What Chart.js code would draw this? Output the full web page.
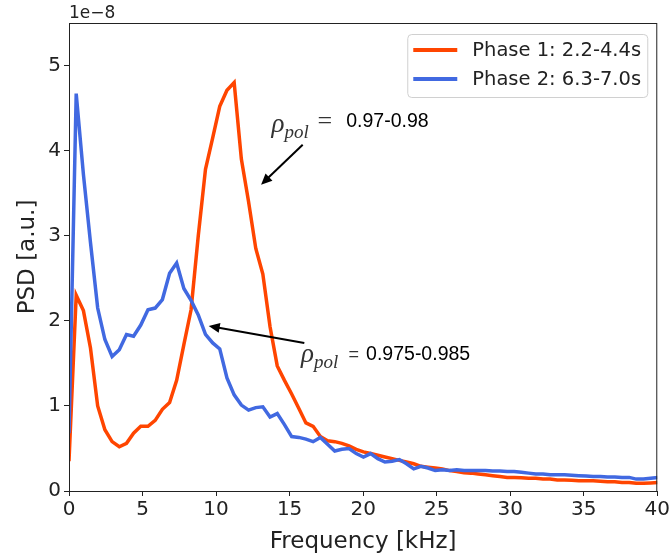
<!DOCTYPE html>
<html lang="en">
<head>
<meta charset="UTF-8">
<title>PSD</title>
<script src="https://cdn.jsdelivr.net/npm/chart.js@4.4.0/dist/chart.umd.min.js"></script>
<style>
  html, body { margin: 0; padding: 0; background: #fff; }
  #wrap { width: 672px; height: 556px; }
</style>
</head>
<body>
<div id="wrap"><canvas id="chart" width="672" height="556"></canvas></div>
<script>
// frequency in kHz
const freqs = [0, 0.49, 0.98, 1.46, 1.95, 2.44, 2.93, 3.42, 3.91, 4.39,
  4.88, 5.37, 5.86, 6.35, 6.84, 7.32, 7.81, 8.30, 8.79, 9.28,
  9.77, 10.25, 10.74, 11.23, 11.72, 12.21, 12.70, 13.18, 13.67, 14.16,
  14.65, 15.14, 15.63, 16.11, 16.60, 17.09, 17.58, 18.07, 18.55, 19.04,
  19.53, 20.02, 20.51, 21.00, 21.48, 21.97, 22.46, 22.95, 23.44, 23.93,
  24.41, 24.90, 25.39, 25.88, 26.37, 26.86, 27.34, 27.83, 28.32, 28.81,
  29.30, 29.79, 30.27, 30.76, 31.25, 31.74, 32.23, 32.71, 33.20, 33.69,
  34.18, 34.67, 35.16, 35.64, 36.13, 36.62, 37.11, 37.60, 38.09, 38.57,
  39.06, 39.55, 40.04];

// PSD in units of 1e-8
const phase1 = [0.35, 2.30, 2.12, 1.68, 1.00, 0.72, 0.58, 0.52, 0.56, 0.68,
  0.76, 0.76, 0.83, 0.96, 1.04, 1.30, 1.72, 2.13, 3.00, 3.78,
  4.15, 4.52, 4.71, 4.80, 3.90, 3.40, 2.85, 2.55, 1.93, 1.47,
  1.30, 1.14, 0.97, 0.80, 0.76, 0.64, 0.59, 0.58, 0.56, 0.53,
  0.49, 0.46, 0.44, 0.42, 0.40, 0.38, 0.36, 0.34, 0.32, 0.29,
  0.28, 0.27, 0.26, 0.24, 0.23, 0.215, 0.21, 0.20, 0.19, 0.18,
  0.17, 0.16, 0.16, 0.155, 0.15, 0.15, 0.14, 0.14, 0.13, 0.13,
  0.125, 0.12, 0.12, 0.12, 0.115, 0.11, 0.11, 0.10, 0.10, 0.09,
  0.09, 0.095, 0.10];

const phase2 = [0.68, 4.67, 3.72, 2.92, 2.15, 1.78, 1.58, 1.66, 1.84, 1.82,
  1.95, 2.13, 2.15, 2.25, 2.56, 2.68, 2.38, 2.24, 2.07, 1.84,
  1.74, 1.67, 1.33, 1.13, 1.01, 0.95, 0.98, 0.99, 0.87, 0.91,
  0.78, 0.64, 0.63, 0.61, 0.58, 0.63, 0.55, 0.47, 0.49, 0.50,
  0.44, 0.40, 0.44, 0.38, 0.34, 0.35, 0.37, 0.32, 0.26, 0.29,
  0.27, 0.24, 0.25, 0.24, 0.25, 0.24, 0.24, 0.24, 0.24, 0.235,
  0.235, 0.23, 0.23, 0.22, 0.21, 0.20, 0.20, 0.19, 0.19, 0.19,
  0.185, 0.18, 0.175, 0.17, 0.17, 0.165, 0.165, 0.16, 0.16, 0.14,
  0.14, 0.15, 0.16];

const seriesLabels = ['Phase 1: 2.2-4.4s', 'Phase 2: 6.3-7.0s'];
const xTicks = [0, 5, 10, 15, 20, 25, 30, 35, 40];
const yTicks = [0, 1, 2, 3, 4, 5];

// annotations: arrow tail/tip and label anchor in data units
const notes = [
  { range: '0.97-0.98', tail: [15.89, 4.07], tip: [13.06, 3.60], rho: [13.77, 4.22], eq: [16.9, 4.33], val: [18.85, 4.34], big: true },
  { range: '0.975-0.985', tail: [16.0, 1.74], tip: [9.50, 1.94], rho: [15.78, 1.52], eq: [19.0, 1.60], val: [20.2, 1.60], big: false }
];

const ORANGE = '#ff4500';
const BLUE = '#4169e1';
const INK = '#222';

function toPts(ys) {
  return freqs.map((f, i) => ({ x: f, y: ys[i] }));
}

const extras = {
  id: 'extras',
  afterDatasetsDraw(chart) {
    const { ctx, chartArea: a, scales } = chart;
    const X = v => scales.x.getPixelForValue(v);
    const Y = v => scales.y.getPixelForValue(v);
    ctx.save();

    // frame
    ctx.strokeStyle = INK;
    ctx.lineWidth = 1;
    ctx.strokeRect(a.left + 0.5, a.top + 0.5, a.right - a.left - 1, a.bottom - a.top);

    // offset label
    ctx.fillStyle = INK;
    ctx.font = '17px "DejaVu Sans"';
    ctx.textBaseline = 'bottom';
    ctx.textAlign = 'left';
    ctx.fillText('1e\u22128', a.left, a.top - 1);

    // annotations
    notes.forEach(n => {
      const x0 = X(n.tail[0]), y0 = Y(n.tail[1]);
      const x1 = X(n.tip[0]), y1 = Y(n.tip[1]);
      const ang = Math.atan2(y1 - y0, x1 - x0);
      const hl = 11, hw = 5;
      ctx.strokeStyle = '#000';
      ctx.fillStyle = '#000';
      ctx.lineWidth = 2;
      ctx.beginPath();
      ctx.moveTo(x0, y0);
      ctx.lineTo(x1 - Math.cos(ang) * hl * 0.8, y1 - Math.sin(ang) * hl * 0.8);
      ctx.stroke();
      ctx.beginPath();
      ctx.moveTo(x1, y1);
      ctx.lineTo(x1 - Math.cos(ang) * hl - Math.sin(ang) * hw, y1 - Math.sin(ang) * hl + Math.cos(ang) * hw);
      ctx.lineTo(x1 - Math.cos(ang) * hl + Math.sin(ang) * hw, y1 - Math.sin(ang) * hl - Math.cos(ang) * hw);
      ctx.closePath();
      ctx.fill();

      ctx.fillStyle = '#333';
      ctx.textBaseline = 'alphabetic';
      ctx.textAlign = 'left';
      const rx = X(n.rho[0]), ry = Y(n.rho[1]);
      ctx.font = 'italic 27px "Liberation Serif"';
      ctx.fillText('\u03c1', rx, ry);
      const w = ctx.measureText('\u03c1').width;
      ctx.font = 'italic 19px "Liberation Serif"';
      ctx.fillText('pol', rx + w, ry + 6);

      ctx.textBaseline = 'middle';
      if (n.big) {
        ctx.font = '26px "Liberation Serif"';
      } else {
        ctx.font = '18px "Liberation Sans"';
      }
      ctx.fillText('=', X(n.eq[0]), Y(n.eq[1]));
      ctx.font = '19.5px "Liberation Sans"';
      ctx.fillStyle = '#000';
      ctx.fillText(n.range, X(n.val[0]), Y(n.val[1]));
    });

    // legend box
    const lx = a.right - 250, ly = a.top + 11, lw = 240, lh = 63;
    ctx.fillStyle = 'rgba(255,255,255,0.85)';
    ctx.strokeStyle = '#d0d0d0';
    ctx.lineWidth = 1;
    ctx.beginPath();
    ctx.roundRect(lx + 0.5, ly + 0.5, lw, lh, 4);
    ctx.fill();
    ctx.stroke();
    chart.data.datasets.forEach((ds, i) => {
      const yy = ly + 16 + i * 29;
      ctx.strokeStyle = ds.borderColor;
      ctx.lineWidth = 4;
      ctx.beginPath();
      ctx.moveTo(lx + 6, yy);
      ctx.lineTo(lx + 50, yy);
      ctx.stroke();
      ctx.fillStyle = INK;
      ctx.font = '19.5px "DejaVu Sans"';
      ctx.textBaseline = 'middle';
      ctx.fillText(ds.label, lx + 65, yy + 1);
    });
    ctx.restore();
  }
};

new Chart(document.getElementById('chart'), {
  type: 'line',
  data: {
    datasets: [
      { label: seriesLabels[0], data: toPts(phase1), borderColor: ORANGE, backgroundColor: ORANGE, borderWidth: 3.5, pointRadius: 0, tension: 0, order: 2 },
      { label: seriesLabels[1], data: toPts(phase2), borderColor: BLUE, backgroundColor: BLUE, borderWidth: 3.5, pointRadius: 0, tension: 0, order: 1 }
    ]
  },
  options: {
    responsive: false,
    animation: false,
    events: [],
    layout: { padding: { top: 23, right: 14, left: 0, bottom: 0 } },
    plugins: { legend: { display: false }, tooltip: { enabled: false } },
    scales: {
      x: {
        type: 'linear', min: 0, max: 40,
        afterBuildTicks: s => { s.ticks = xTicks.map(v => ({ value: v })); },
        afterFit: s => { s.height = 65; },
        ticks: { color: INK, font: { family: 'DejaVu Sans', size: 20 }, padding: 2, maxRotation: 0 },
        grid: { display: true, drawOnChartArea: false, drawTicks: true, tickLength: 5, color: INK },
        border: { display: true, color: INK },
        title: { display: true, text: 'Frequency [kHz]', color: INK, font: { family: 'DejaVu Sans', size: 23 }, padding: { top: 0, bottom: 0 } }
      },
      y: {
        type: 'linear', min: 0, max: 5.5,
        afterBuildTicks: s => { s.ticks = yTicks.map(v => ({ value: v })); },
        afterFit: s => { s.width = 69; },
        ticks: { color: INK, font: { family: 'DejaVu Sans', size: 20 }, padding: 3 },
        grid: { display: true, drawOnChartArea: false, drawTicks: true, tickLength: 5, color: INK },
        border: { display: true, color: INK },
        title: { display: true, text: 'PSD [a.u.]', color: INK, font: { family: 'DejaVu Sans', size: 23 }, padding: { top: 14, bottom: 0 } }
      }
    }
  },
  plugins: [extras]
});
</script>
</body>
</html>
